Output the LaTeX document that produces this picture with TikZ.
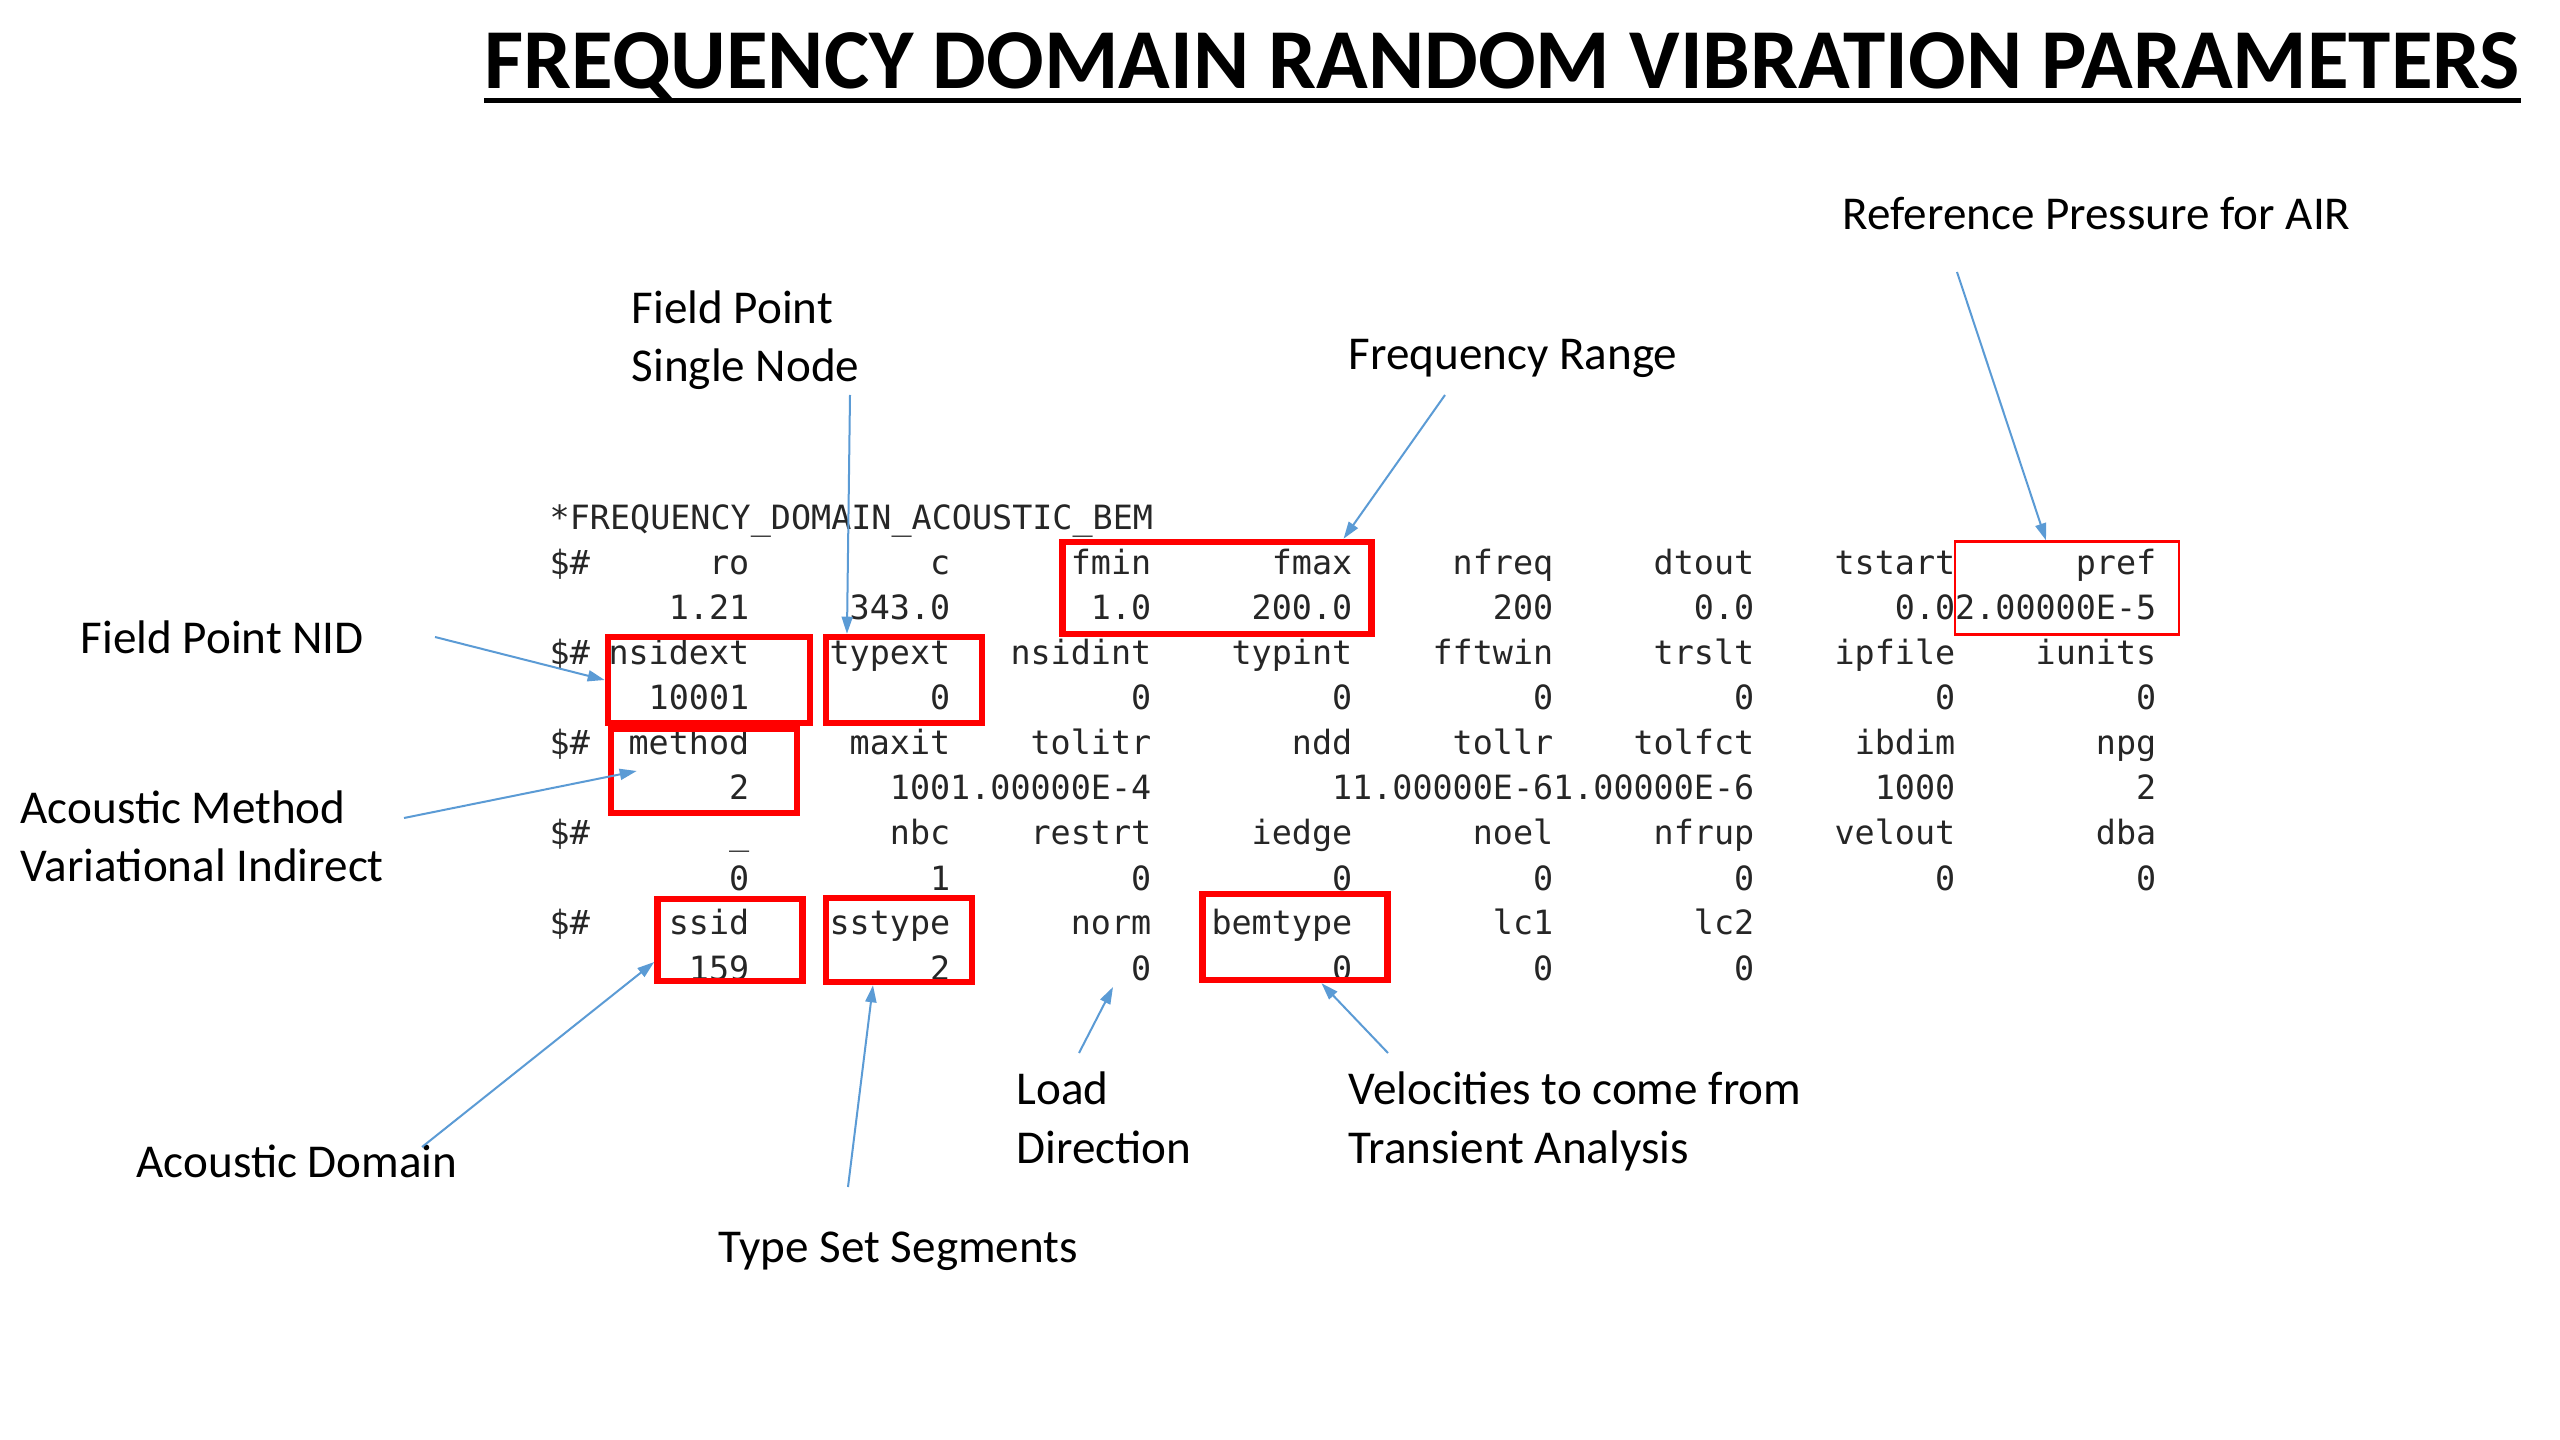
\documentclass[tikz,border=0pt]{standalone}
\usepackage{fontspec}
\setmainfont{Carlito}
\setmonofont{DejaVu Sans Mono}
\usetikzlibrary{arrows.meta}
\definecolor{arrowblue}{RGB}{91,155,213}
\begin{document}
\begin{tikzpicture}[x=0.01cm,y=-0.01cm,
	cell/.style={anchor=base east,inner sep=0pt,font=\fontsize{9.5}{11}\selectfont\ttfamily,text=black!85},
	note/.style={anchor=base west,inner sep=0pt,align=left,font=\fontsize{13.4}{16.5}\selectfont},
	redbox/.style={draw=red,line width=0.065cm,inner sep=0pt},
	pointer/.style={arrowblue,line width=0.02cm,-{Triangle[length=0.17cm,width=0.11cm]}}]
	\useasboundingbox[fill=white] (0,0) rectangle (2560,1440);
	% title
	\node[anchor=base west,inner sep=0pt,font=\fontsize{24.25}{28}\selectfont\bfseries] (title) at (484,89) {FREQUENCY DOMAIN RANDOM VIBRATION PARAMETERS};
	\draw[line width=0.05cm] ([yshift=-0.12cm]title.base west)--([yshift=-0.12cm]title.base east);
	% keyword card
	\node[cell,anchor=base west] (card) at (549,530) {*FREQUENCY\_DOMAIN\_ACOUSTIC\_BEM};
	\foreach \y in {575,665,755,845,935}
	\node[cell,anchor=base west] (d\y) at (549,\y) {\$\#};
	\foreach \t [count=\k] in {ro,c,fmin,fmax,nfreq,dtout,tstart,pref}
	\node[cell] (a\k) at ({549+201*\k},575) {\t};
	\foreach \t [count=\k] in {1.21,343.0,1.0,200.0,200,0.0,0.0,2.00000E-5}
	\node[cell] (b\k) at ({549+201*\k},620) {\t};
	\foreach \t [count=\k] in {nsidext,typext,nsidint,typint,fftwin,trslt,ipfile,iunits}
	\node[cell] (c\k) at ({549+201*\k},665) {\t};
	\foreach \t [count=\k] in {10001,0,0,0,0,0,0,0}
	\node[cell] (e\k) at ({549+201*\k},710) {\t};
	\foreach \t [count=\k] in {method,maxit,tolitr,ndd,tollr,tolfct,ibdim,npg}
	\node[cell] (f\k) at ({549+201*\k},755) {\t};
	\foreach \t [count=\k] in {2,100,1.00000E-4,1,1.00000E-6,1.00000E-6,1000,2}
	\node[cell] (g\k) at ({549+201*\k},800) {\t};
	\foreach \t [count=\k] in {\_,nbc,restrt,iedge,noel,nfrup,velout,dba}
	\node[cell] (h\k) at ({549+201*\k},845) {\t};
	\foreach \t [count=\k] in {0,1,0,0,0,0,0,0}
	\node[cell] (i\k) at ({549+201*\k},890) {\t};
	\foreach \t [count=\k] in {ssid,sstype,norm,bemtype,lc1,lc2}
	\node[cell] (j\k) at ({549+201*\k},935) {\t};
	\foreach \t [count=\k] in {159,2,0,0,0,0}
	\node[cell] (k\k) at ({549+201*\k},980) {\t};
	% red frames
	\node[redbox,minimum width=3.09cm,minimum height=0.92cm] (fbox) at (1217,588) {};
	\node[redbox,line width=0.022cm,minimum width=2.24cm,minimum height=0.93cm] (pbox) at (2067,588) {};
	\node[redbox,minimum width=2.02cm,minimum height=0.86cm] (nsidbox) at (709,680) {};
	\node[redbox,minimum width=1.56cm,minimum height=0.86cm] (typbox) at (904,680) {};
	\node[redbox,minimum width=1.86cm,minimum height=0.84cm] (methbox) at (704,771) {};
	\node[redbox,minimum width=1.45cm,minimum height=0.82cm] (ssidbox) at (730,940) {};
	\node[redbox,minimum width=1.46cm,minimum height=0.84cm] (sstbox) at (899,940) {};
	\node[redbox,minimum width=1.85cm,minimum height=0.86cm] (bembox) at (1295,937) {};
	% labels (two-line ones sit on their last line)
	\node[note] (fp) at (631,382) {Field Point\\Single Node};
	\node[note] (fr) at (1348,370) {Frequency Range};
	\node[note] (ref) at (1842,230) {Reference Pressure for AIR};
	\node[note] (nid) at (80,654) {Field Point NID};
	\node[note] (am) at (20,882) {Acoustic Method\\Variational Indirect};
	\node[note] (ad) at (136,1177) {Acoustic Domain};
	\node[note] (ts) at (718,1262) {Type Set Segments};
	\node[note] (ld) at (1016,1163) {Load\\Direction};
	\node[note] (vel) at (1348,1163) {Velocities to come from\\Transient Analysis};
	% arrows
	\coordinate (fpT) at (850,395);
	\coordinate (frT) at (1445,395);
	\coordinate (refT) at (1957,272);
	\coordinate (nidT) at (435,637);
	\coordinate (amT) at (404,818);
	\coordinate (adT) at (422,1147);
	\coordinate (tsT) at (848,1187);
	\coordinate (ldT) at (1079,1053);
	\coordinate (ldH) at (1113,987);
	\coordinate (velT) at (1388,1053);
	\draw[pointer] (fpT)--([xshift=-0.57cm]typbox.north);
	\draw[pointer] (frT)--([xshift=1.265cm]fbox.north);
	\draw[pointer] (refT)--([xshift=-0.21cm]pbox.north);
	\draw[pointer] (nidT)--(nsidbox.west);
	\draw[pointer] (amT)--([xshift=0.29cm]methbox.west);
	\draw[pointer] (adT)--([yshift=-0.22cm]ssidbox.west);
	\draw[pointer] (tsT)--([xshift=-0.26cm]sstbox.south);
	\draw[pointer] (ldT)--(ldH);
	\draw[pointer] (velT)--([xshift=0.265cm]bembox.south);
\end{tikzpicture}
\end{document}
